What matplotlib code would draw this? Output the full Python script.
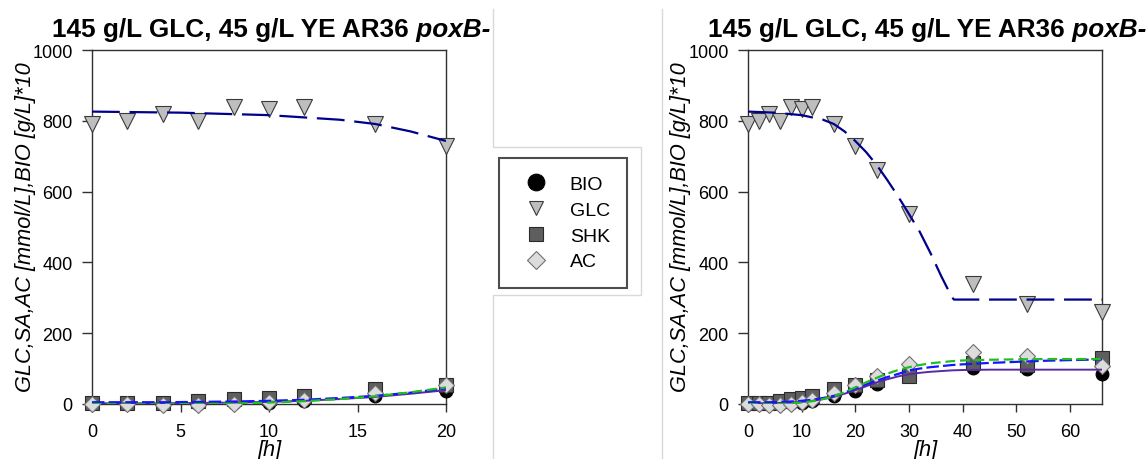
import matplotlib
matplotlib.use("Agg")
import matplotlib.pyplot as plt
from matplotlib.lines import Line2D
import numpy as np

plt.rcParams['font.family'] = ['Liberation Sans', 'DejaVu Sans']
plt.rcParams['lines.scale_dashes'] = False

# ---- measured data ----
t = [0, 2, 4, 6, 8, 10, 12, 16, 20, 24, 30, 42, 52, 66]
bio = [0, 0, 0, 1, 2, 4, 8, 24, 38, 57, 80, 101, 99, 85]
glc = [790, 800, 820, 800, 838, 834, 840, 791, 730, 660, 537, 340, 283, 260]
shk = [3, 3, 3, 8, 15, 18, 24, 42, 55, 68, 79, 115, 110, 130]
ac = [0, -1, -3, -2, 1, 5, 11, 32, 54, 80, 112, 147, 136, 108]

# ---- fitted model curves ----
fit_t = [0, 2, 4, 6, 8, 10, 12, 14, 16, 18, 20, 22, 24, 26, 28, 30, 32, 34, 36, 38, 40, 45, 50, 55, 60, 66]
bio_fit = [2, 2, 2, 3, 4, 6, 9, 14, 20, 29, 39, 50, 61, 70, 78, 84, 88, 91, 93, 95, 96, 97, 97, 97, 97, 97]
shk_fit = [5, 5, 5, 6, 7, 9, 12, 17, 23, 32, 44, 55, 66, 76, 85, 95, 100, 104, 107, 110, 112, 116, 119, 122, 124, 126]
ac_fit = [0, -1, -1, 0, 1, 4, 8, 14, 22, 33, 47, 61, 74, 86, 96, 104, 110, 115, 118, 121, 123, 125, 126, 127, 127, 127]
glc_fit_t = [0, 5, 10, 14, 16, 18, 20, 22, 24, 26, 28, 30, 32, 34, 36, 38, 38.4, 66]
glc_fit = [826, 823, 816, 803, 791, 770, 743, 712, 675, 632, 586, 537, 487, 427, 362, 302, 295, 295]

title_main = "145 g/L GLC, 45 g/L YE AR36"
title_it = " poxB-"
ylabel = "GLC,SA,AC [mmol/L],BIO [g/L]*10"
xlabel = "[h]"
labels = ["BIO", "GLC", "SHK", "AC"]

W, H = 1147, 460
fig = plt.figure(figsize=(W / 100, H / 100), dpi=100)

def px_rect(x0, x1, ytop, ybot):
    return [x0 / W, 1 - ybot / H, (x1 - x0) / W, (ybot - ytop) / H]

ax1 = fig.add_axes(px_rect(92, 446, 51, 405))
ax2 = fig.add_axes(px_rect(748, 1102, 51, 405))

spine_c = '#303030'
sty = {
    'BIO': dict(marker='o', mfc='black', mec='black', mew=0.8),
    'GLC': dict(marker='v', mfc='#BEBEBE', mec='#3a3a3a', mew=0.8),
    'SHK': dict(marker='s', mfc='#5E5E5E', mec='#2a2a2a', mew=0.8),
    'AC': dict(marker='D', mfc='#DCDCDC', mec='#707070', mew=0.8),
}
plot_ms = {'BIO': 9.2, 'GLC': 11, 'SHK': 9.6, 'AC': 8.5}
leg_ms = {'BIO': 12, 'GLC': 10.5, 'SHK': 10, 'AC': 9.5}

def draw(ax, tmax, xticks, ylab_x):
    tt = np.array(t)
    m = tt <= tmax
    ft = np.array(fit_t)
    fm = ft <= tmax
    gt = np.array(glc_fit_t)
    gm = gt <= tmax
    for name, vals in zip(labels, [bio, glc, shk, ac]):
        ax.plot(tt[m], np.array(vals)[m], ls='none', ms=plot_ms[name], clip_on=False, zorder=3, **sty[name])
    ax.plot(ft[fm], np.array(bio_fit)[fm], color='#5A2A9E', lw=1.4, zorder=4)
    ax.plot(ft[fm], np.array(shk_fit)[fm], color='#1515FF', lw=1.6, dashes=(9, 3), zorder=4)
    ax.plot(ft[fm], np.array(ac_fit)[fm], color='#1FBF1F', lw=1.6, dashes=(7, 3.5), zorder=4)
    ax.plot(gt[gm], np.array(glc_fit)[gm], color='#00008B', lw=1.6, dashes=(20, 7), zorder=4)
    ax.set_xlim(0, tmax)
    ax.set_ylim(0, 1000)
    ax.set_xticks(xticks)
    ax.set_yticks([0, 200, 400, 600, 800, 1000])
    for s in ax.spines.values():
        s.set_color(spine_c)
        s.set_linewidth(1.0)
    ax.tick_params(axis='y', direction='out', length=7, width=1, color=spine_c, labelsize=13, pad=7, right=False)
    ax.tick_params(axis='x', direction='out', length=5.5, width=1, color=spine_c, labelsize=13, pad=8.5, top=False)
    ax.set_ylabel(ylabel, fontsize=15.7, style='italic')
    ax.yaxis.set_label_coords(ylab_x, 0.503)
    ax.set_xlabel(xlabel, fontsize=15.7, style='italic')
    ax.xaxis.set_label_coords(0.5, -0.1)
    t1 = ax.text(-0.113, 1.0395, title_main, transform=ax.transAxes, fontsize=18.8, fontweight='bold', ha='left', va='baseline')
    ax.annotate(title_it, xy=(1, 0), xycoords=t1, fontsize=18.8, fontweight='bold', style='italic', ha='left', va='bottom')

draw(ax1, 20, [0, 5, 10, 15, 20], -0.158)
draw(ax2, 66, [0, 10, 20, 30, 40, 50, 60], -0.16)

proxies = [Line2D([], [], ls='none', ms=leg_ms[n], **sty[n]) for n in labels]
leg = fig.legend(proxies, labels, loc='center',
                 bbox_to_anchor=(497 / W, 1 - 290 / H, 132 / W, 132 / H),
                 fontsize=14, frameon=True, fancybox=False, borderpad=0.9,
                 handlelength=2.0, handletextpad=0.75, labelspacing=0.42)
leg.get_frame().set_edgecolor('#202020')
leg.get_frame().set_linewidth(1.5)

# light gray panel separators
sep = '#D9D9D9'
def fline(xs, ys):
    fig.add_artist(Line2D([x / W for x in xs], [1 - y / H for y in ys], color=sep, lw=1.0))
fline([493, 493, 641, 641, 493, 493], [10, 148, 148, 296, 296, 460])
fline([662, 662], [10, 460])

fig.savefig('out.png', dpi=100)
